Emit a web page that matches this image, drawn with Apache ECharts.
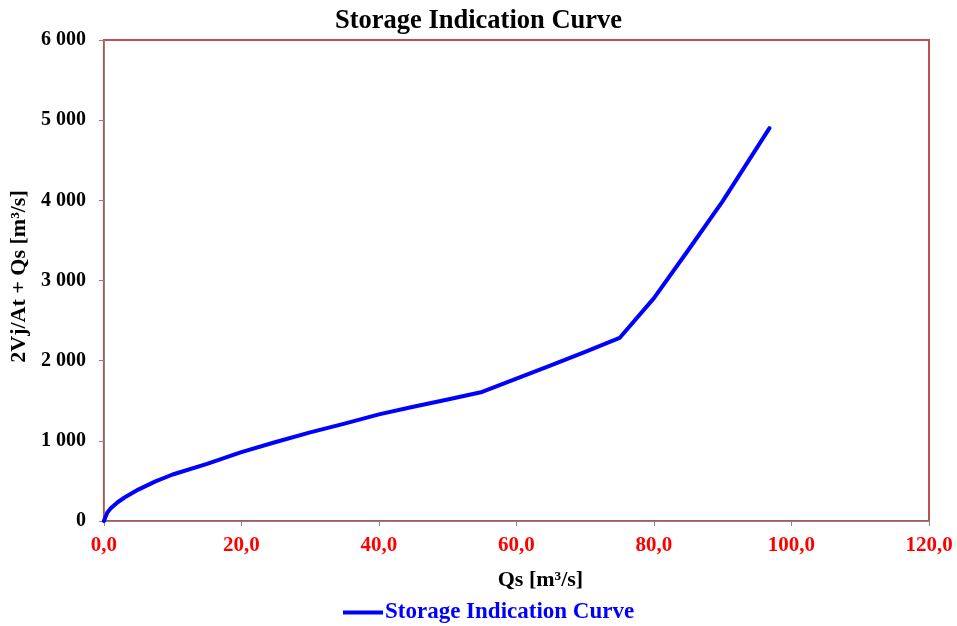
<!DOCTYPE html>
<html>
<head>
<meta charset="utf-8">
<script src="https://cdn.jsdelivr.net/npm/echarts@6/dist/echarts.min.js"></script>
<style>
html,body{margin:0;padding:0;background:#fff;}
#chart{width:957px;height:626px;}
</style>
</head>
<body>
<div id="chart"></div>
<script>
const seriesName = "Storage Indication Curve";
const qsValues = [0, 0.5, 1, 2, 3, 5, 7.5, 10, 15, 20, 25, 30, 35, 40, 45, 50, 55, 60, 65, 70, 75, 80, 85, 90, 96.8];
const storageValues = [0, 105, 158, 234, 293, 392, 494, 580, 712, 860, 985, 1105, 1215, 1330, 1425, 1515, 1610, 1775, 1942, 2110, 2283, 2780, 3380, 3990, 4900];
const xTicks = [0, 20, 40, 60, 80, 100, 120];
const yTicks = [0, 1000, 2000, 3000, 4000, 5000, 6000];

const data = qsValues.map((q, i) => [q, storageValues[i]]);
const font = "'Liberation Serif', 'Times New Roman', serif";

const chart = echarts.init(document.getElementById('chart'));
chart.setOption({
  backgroundColor: '#ffffff',
  animation: false,
  title: {
    text: 'Storage Indication Curve',
    left: 'center',
    top: 3,
    textStyle: {fontFamily: font, fontWeight: 'bold', fontSize: 26.5, color: '#000'}
  },
  legend: {
    top: 596,
    left: 338,
    itemWidth: 40,
    itemHeight: 4,
    itemGap: 2,
    icon: 'rect',
    data: [seriesName],
    textStyle: {fontFamily: font, fontWeight: 'bold', fontSize: 23, color: '#0000ff', padding: [0,0,0,-3]}
  },
  grid: {
    left: 103, right: 28, top: 40, bottom: 105,
    show: true,
    borderColor: '#c0504d',
    borderWidth: 2,
    backgroundColor: '#fff'
  },
  xAxis: {
    type: 'value',
    min: xTicks[0],
    max: xTicks[xTicks.length - 1],
    interval: 20,
    name: 'Qs [m³/s]',
    nameLocation: 'middle',
    nameGap: 48,
    nameTextStyle: {fontFamily: font, fontWeight: 'bold', fontSize: 22, color: '#000', padding: [0,0,0,48]},
    axisLine: {show: true, lineStyle: {color: '#868686', width: 1}},
    axisTick: {show: true, length: 5, lineStyle: {color: '#868686'}},
    splitLine: {show: false},
    axisLabel: {
      margin: 14,
      fontFamily: font, fontWeight: 'bold', fontSize: 21, color: '#ff0000',
      formatter: v => v.toFixed(1).replace('.', ',')
    }
  },
  yAxis: {
    type: 'value',
    min: yTicks[0],
    max: yTicks[yTicks.length - 1],
    interval: 1000,
    name: '2Vj/At + Qs [m³/s]',
    nameLocation: 'middle',
    nameGap: 63,
    nameRotate: 90,
    nameTextStyle: {fontFamily: font, fontWeight: 'bold', fontSize: 22, color: '#000', padding: [0,0,0,8]},
    axisLine: {show: true, lineStyle: {color: '#868686', width: 1}},
    axisTick: {show: true, length: 5, lineStyle: {color: '#868686'}},
    splitLine: {show: false},
    axisLabel: {
      margin: 18,
      fontFamily: font, fontWeight: 'bold', fontSize: 20, color: '#000',
      formatter: v => String(v).replace(/\B(?=(\d{3})+(?!\d))/g, ' ')
    }
  },
  series: [{
    name: seriesName,
    type: 'line',
    data: data,
    showSymbol: false,
    symbol: 'none',
    smooth: false,
    lineStyle: {color: '#0000ff', width: 4, cap: 'round', join: 'round'},
    itemStyle: {color: '#0000ff'}
  }]
});
</script>
</body>
</html>
